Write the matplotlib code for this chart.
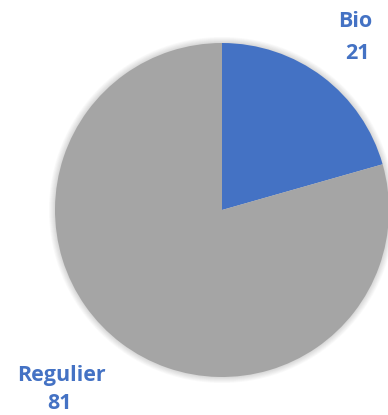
import matplotlib
matplotlib.use("Agg")
import matplotlib.pyplot as plt
from matplotlib.patches import Circle

categories = ["Bio", "Regulier"]
values = [21, 81]
colors = ["#4472C4", "#A5A5A5"]

W, H = 388, 415
fig = plt.figure(figsize=(W / 100, H / 100), dpi=100)
ax = fig.add_axes([0, 0, 1, 1])

cx, cy, r = 222, H - 210, 167

# soft shadow around the pie
for i in range(8):
    ax.add_patch(Circle((cx, cy), r + 0.5 + i * 0.8, color="black",
                        alpha=0.02, lw=0, zorder=0))

ax.pie(values, colors=colors, startangle=90, counterclock=False,
       center=(cx, cy), radius=r, wedgeprops=dict(linewidth=0))

label_font = dict(family=["Open Sans", "DejaVu Sans"], fontweight="bold",
                  fontsize=15.5, color="#4472C4", ha="center", va="baseline")
# data labels: category name above its value
ax.text(355, H - 27, categories[0], **label_font)
ax.text(357, H - 59, str(values[0]), **label_font)
ax.text(61, H - 381, categories[1], **label_font)
ax.text(60, H - 409, str(values[1]), **label_font)

ax.set_xlim(0, W)
ax.set_ylim(0, H)
ax.set_aspect("auto")
ax.axis("off")
fig.savefig("out.png", dpi=100)
